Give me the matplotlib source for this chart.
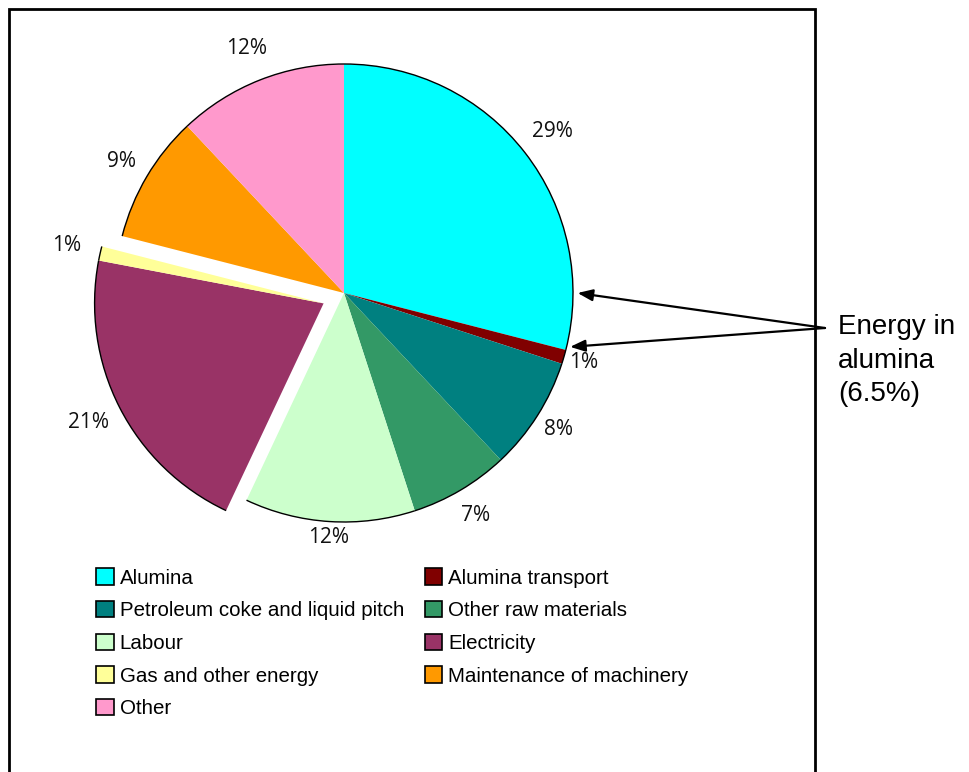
import numpy as np
import matplotlib.pyplot as plt
from matplotlib.patches import Arc, Rectangle, Patch
from matplotlib import font_manager

categories = ['Alumina', 'Alumina transport', 'Petroleum coke and liquid pitch',
              'Other raw materials', 'Labour', 'Electricity',
              'Gas and other energy', 'Maintenance of machinery', 'Other']
shares = [29, 1, 8, 7, 12, 21, 1, 9, 12]
colors = ['#00FFFF', '#800000', '#008080', '#339966', '#CCFFCC',
          '#993366', '#FFFF99', '#FF9900', '#FF99CC']
explode = [0, 0, 0, 0, 0, 0.1, 0.1, 0, 0]
note = 'Energy in\nalumina\n(6.5%)'

# label distance from the wedge apex (in radii), one per slice
pct_dist = [1.15, 1.09, 1.11, 1.13, 1.07, 1.15, 1.15, 1.13, 1.15]

names = {f.name for f in font_manager.fontManager.ttflist}
narrow = 'Liberation Sans Narrow' in names
leg_font = 'Liberation Sans Narrow' if narrow else 'Liberation Sans'
leg_size = 16.5 if narrow else 14.8

W, H = 969, 772
fig = plt.figure(figsize=(W / 100, H / 100), dpi=100)

# axes over the whole figure, one unit = pie radius
cx, cy, R = 344, 293, 229
ax = fig.add_axes([0, 0, 1, 1])

wedges, texts, autotexts = ax.pie(
    shares, colors=colors, explode=explode, startangle=90, counterclock=False,
    autopct='%1.0f%%', pctdistance=1.14, radius=1,
    wedgeprops=dict(linewidth=0),
    textprops=dict(fontsize=15, family=['Open Sans', 'DejaVu Sans'], color='#111111'))
ax.set_xlim(-cx / R, (W - cx) / R)
ax.set_ylim(-(H - cy) / R, cy / R)
ax.set_aspect('auto')
ax.axis('off')

# gas slice is pulled out together with electricity
wedges[6].set_center(wedges[5].center)

for w, t, d in zip(wedges, autotexts, pct_dist):
    mid = np.deg2rad((w.theta1 + w.theta2) / 2)
    t.set_position((w.center[0] + d * np.cos(mid), w.center[1] + d * np.sin(mid)))
    # black outline on the outer arcs only
    ax.add_patch(Arc(w.center, 2 * w.r, 2 * w.r, theta1=w.theta1, theta2=w.theta2,
                     color='black', lw=1.0))

# arrows to the alumina wedges
start = (825 / W, 1 - 328 / H)
for ang, rr in [(0, 1.02), (-13.4, 1.015)]:
    t = np.deg2rad(ang)
    ax.annotate('', xy=(rr * np.cos(t), rr * np.sin(t)), xycoords='data',
                xytext=start, textcoords='figure fraction',
                arrowprops=dict(arrowstyle='-|>,head_length=0.9,head_width=0.35',
                                color='black', lw=1.6, shrinkA=0, shrinkB=0))
fig.text(838 / W, 1 - 314 / H, note, fontsize=20, family=['Liberation Sans', 'DejaVu Sans'],
         va='top', ha='left', linespacing=1.38)

# frame
fig.patches.append(Rectangle((8.5 / W, -0.05), (815 - 8.5) / W, 1.05 - 8.5 / H,
                             transform=fig.transFigure, fill=False, lw=2, ec='black'))

# legend filled row by row
order = [0, 2, 4, 6, 8, 1, 3, 5, 7]
handles = [Patch(facecolor=colors[i], edgecolor='black', lw=1.2) for i in order]
leg = fig.legend(handles, [categories[i] for i in order], ncol=2, loc='upper left',
                 bbox_to_anchor=(88 / W, 1 - 560 / H), frameon=False,
                 prop=dict(family=[leg_font, 'DejaVu Sans'], size=leg_size),
                 handlelength=0.85, handleheight=0.85, handletextpad=0.3,
                 labelspacing=0.65, columnspacing=1.0, borderaxespad=0)

fig.savefig('out.png', dpi=100, facecolor='white')
